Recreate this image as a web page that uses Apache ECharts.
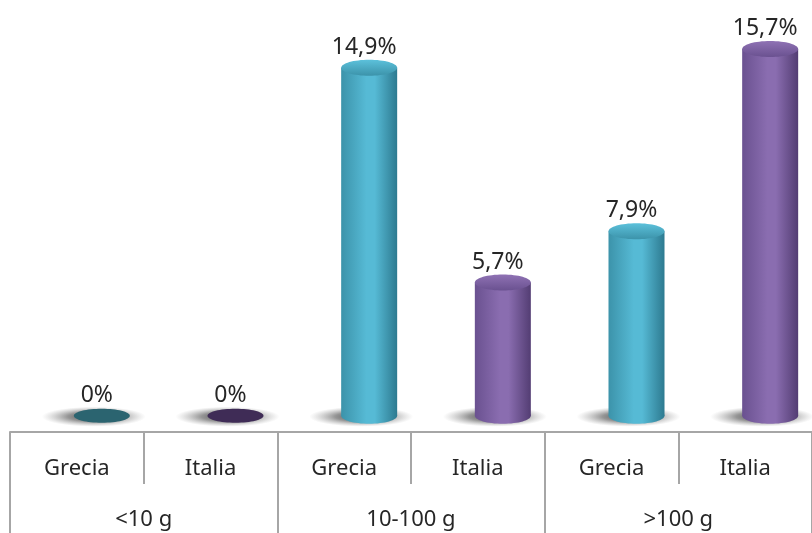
<!DOCTYPE html>
<html>
<head>
<meta charset="utf-8">
<script src="https://cdn.jsdelivr.net/npm/echarts@6/dist/echarts.min.js"></script>
<style>
  html, body { margin: 0; padding: 0; background: #ffffff; }
  #chart { width: 812px; height: 533px; }
</style>
</head>
<body>
<div id="chart"></div>
<script>
// Share of samples per weight class, by country
const categories = ['Grecia', 'Italia', 'Grecia', 'Italia', 'Grecia', 'Italia'];
const groups = ['<10 g', '10-100 g', '>100 g'];
const values = [0, 0, 14.9, 5.7, 7.9, 15.7];

// Cylinder shading per country: side gradient stops, cap colour, flat (zero) disc colour
const palette = {
  Grecia: { left: '#3c93aa', mid: '#56bad5', right: '#2d7a90', cap: '#5cc1db', flat: '#2b6470' },
  Italia: { left: '#6a5190', mid: '#8a6db0', right: '#533d73', cap: '#8f72b4', flat: '#3f2c56' }
};

const fmt = v => (v === 0 ? '0' : v.toFixed(1).replace('.', ',')) + '%';

const chart = echarts.init(document.getElementById('chart'), null, { renderer: 'canvas' });

function renderCylinder(params, api) {
  const i = api.value(0);
  const v = api.value(1);
  const base = api.coord([i, 0]);
  const top = api.coord([i, v]);
  const p = palette[categories[i]];
  const cx = base[0] + 25;
  const rx = 28, ry = 8;
  const by = base[1];
  const ty = top[1];
  const side = new echarts.graphic.LinearGradient(0, 0, 1, 0, [
    { offset: 0, color: p.left },
    { offset: 0.45, color: p.mid },
    { offset: 0.6, color: p.mid },
    { offset: 1, color: p.right }
  ]);
  const children = [];
  // soft floor shadow: a round blur stretched sideways
  children.push({
    type: 'circle',
    x: cx - 8,
    y: by + 1,
    scaleX: 5.2,
    scaleY: 1,
    shape: { cx: 0, cy: 0, r: 10 },
    style: {
      fill: new echarts.graphic.RadialGradient(0.5, 0.5, 0.5, [
        { offset: 0, color: 'rgba(40,40,40,0.9)' },
        { offset: 0.5, color: 'rgba(80,80,80,0.6)' },
        { offset: 1, color: 'rgba(140,140,140,0)' }
      ])
    },
    silent: true
  });
  if (v > 0) {
    children.push({
      type: 'ellipse',
      shape: { cx: cx, cy: by, rx: rx, ry: ry },
      style: { fill: side }
    });
    children.push({
      type: 'rect',
      shape: { x: cx - rx, y: ty, width: rx * 2, height: by - ty },
      style: { fill: side }
    });
    children.push({
      type: 'ellipse',
      shape: { cx: cx, cy: ty, rx: rx, ry: ry },
      style: {
        fill: new echarts.graphic.LinearGradient(0, 0, 0, 1, [
          { offset: 0, color: p.cap },
          { offset: 1, color: p.left }
        ])
      }
    });
  } else {
    children.push({
      type: 'ellipse',
      shape: { cx: cx, cy: ty, rx: rx, ry: 7 },
      style: { fill: p.flat }
    });
  }
  children.push({
    type: 'text',
    style: {
      x: cx - 5,
      y: ty - ry - 1,
      text: fmt(v),
      align: 'center',
      verticalAlign: 'bottom',
      fill: '#262626',
      font: '23px "Noto Sans"'
    },
    silent: true
  });
  return { type: 'group', children: children };
}

const axisLineStyle = { color: '#a6a6a6', width: 2 };

chart.setOption({
  animation: false,
  backgroundColor: '#ffffff',
  grid: { left: 10, right: 0, top: 0, bottom: 101 },
  xAxis: [
    {
      type: 'category',
      data: categories,
      position: 'bottom',
      axisLine: { show: true, onZero: false, lineStyle: axisLineStyle },
      axisTick: { show: true, length: 52, lineStyle: axisLineStyle },
      axisLabel: {
        margin: 24, color: '#262626', fontSize: 22, fontFamily: 'Noto Sans',
        interval: 0, lineHeight: 26, verticalAlign: 'top'
      },
      splitLine: { show: false }
    },
    {
      type: 'category',
      data: groups,
      position: 'bottom',
      axisLine: { show: false, onZero: false },
      axisTick: { show: true, length: 101, lineStyle: axisLineStyle },
      axisLabel: {
        margin: 75, color: '#262626', fontSize: 22, fontFamily: 'Noto Sans',
        interval: 0, lineHeight: 26, verticalAlign: 'top'
      },
      splitLine: { show: false }
    }
  ],
  yAxis: { type: 'value', show: false, min: -0.7, max: 17.8, splitLine: { show: false } },
  series: [
    {
      type: 'custom',
      xAxisIndex: 0,
      yAxisIndex: 0,
      renderItem: renderCylinder,
      data: values.map((v, i) => [i, v]),
      clip: false
    }
  ]
});
</script>
</body>
</html>
